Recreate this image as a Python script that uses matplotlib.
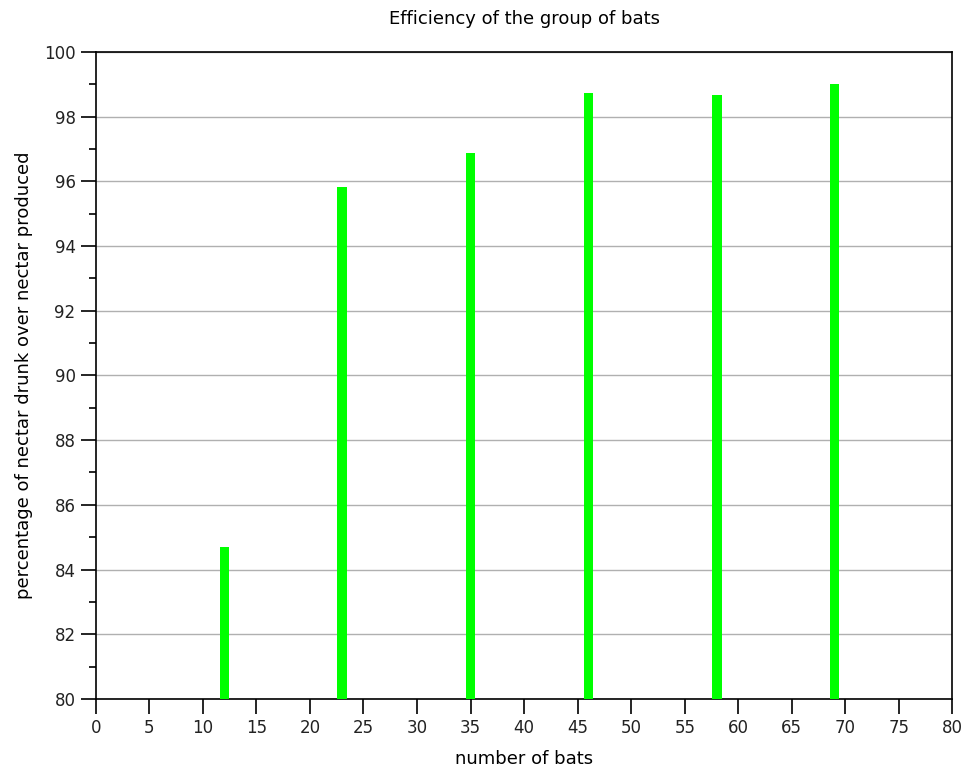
import matplotlib
matplotlib.use("Agg")
import matplotlib.pyplot as plt
from matplotlib.ticker import MultipleLocator

# number of bats in the group vs. share of nectar drunk
n_bats = [12, 23, 35, 46, 58, 69]
efficiency = [84.70, 95.83, 96.88, 98.73, 98.67, 99.02]

fig = plt.figure(figsize=(9.67, 7.74), dpi=100)
ax = fig.add_axes([0.099, 0.097, 0.886, 0.836])

ax.bar(n_bats, [e - 80 for e in efficiency], bottom=80, width=0.87,
       color="#00ff00", zorder=3)

ax.set_xlim(0, 80)
ax.set_ylim(80, 100)
ax.xaxis.set_major_locator(MultipleLocator(5))
ax.yaxis.set_major_locator(MultipleLocator(2))
ax.yaxis.set_minor_locator(MultipleLocator(1))
ax.tick_params(which="major", direction="out", length=11, width=1.2,
               labelsize=12, colors="black", labelcolor="#222222")
ax.tick_params(which="minor", direction="out", length=5, width=1.2)
ax.grid(axis="y", which="major", color="#b0b0b0", linewidth=1, zorder=0)
for s in ax.spines.values():
    s.set_linewidth(1.2)

ax.set_title("Efficiency of the group of bats", fontsize=13, pad=20)
ax.set_xlabel("number of bats", fontsize=13, labelpad=9)
ax.set_ylabel("percentage of nectar drunk over nectar produced", fontsize=13, labelpad=8)

fig.savefig("out.png", dpi=100)
